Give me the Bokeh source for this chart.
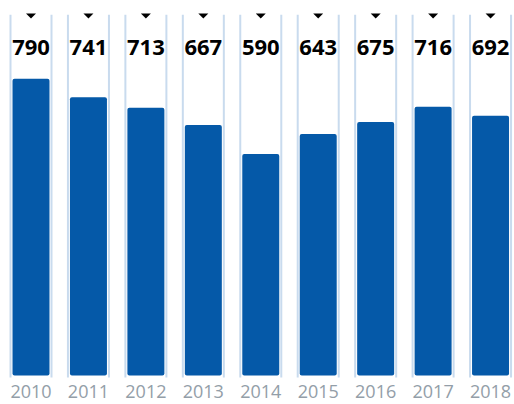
import numpy as np
from bokeh.plotting import figure
from bokeh.models import Range1d, ColumnDataSource, FixedTicker
from bokeh.core.properties import value
from bokeh.embed import file_html
from bokeh.resources import INLINE

# Data
years = ["2010", "2011", "2012", "2013", "2014", "2015", "2016", "2017", "2018"]
counts = [790, 741, 713, 667, 590, 643, 675, 716, 692]

# Layout constants (pixel-derived)
px_per_unit_y = 0.3755
frame_h = 378
baseline_px = 375
y_end = baseline_px / px_per_unit_y
y_start = -(frame_h - baseline_px) / px_per_unit_y

idx = np.arange(len(years))
track_top = 961
track_bottom = -5
tri_top = 964
tri_tip = 950.5
tri_half = 0.087
label_y = 873.5

src = ColumnDataSource(dict(
    x=idx,
    top=counts,
    label=[str(c) for c in counts],
    lx=idx - 0.357,
    rx=idx + 0.357,
))

p = figure(frame_width=514, frame_height=frame_h, output_backend="svg",
           toolbar_location=None, min_border=0, min_border_bottom=26,
           x_range=Range1d(-0.531, 8.417), y_range=Range1d(y_start, y_end))
p.outline_line_color = None
p.background_fill_color = "white"
p.border_fill_color = "white"
p.grid.visible = False
p.yaxis.visible = False

# track outlines (left & right lines)
p.segment(x0="lx", y0=track_bottom, x1="lx", y1=track_top, source=src,
          line_color="#c9dbee", line_width=2)
p.segment(x0="rx", y0=track_bottom, x1="rx", y1=track_top, source=src,
          line_color="#c9dbee", line_width=2)

# bars
p.vbar(x="x", top="top", bottom=0, width=0.644, source=src,
       fill_color="#0559a8", line_color=None, border_radius=2)

# triangles
xs = [[i - tri_half, i + tri_half, i] for i in idx]
ys = [[tri_top, tri_top, tri_tip] for _ in idx]
p.patches(xs, ys, fill_color="black", line_color=None)

# value labels
p.text(x="x", y=label_y, text="label", source=src,
       text_font=value("Open Sans"), text_font_style="bold",
       text_font_size="22px", text_color="black",
       text_align="center", text_baseline="alphabetic")

# x axis
xa = p.xaxis[0]
xa.ticker = FixedTicker(ticks=list(idx))
xa.major_label_overrides = {int(i): y for i, y in zip(idx, years)}
xa.axis_line_color = None
xa.major_tick_line_color = None
xa.minor_tick_line_color = None
xa.major_tick_out = 0
xa.major_tick_in = 0
xa.major_label_standoff = 6
xa.major_label_text_font = "Open Sans"
xa.major_label_text_font_size = "18px"
xa.major_label_text_color = "#939ea8"

open("out.html", "w").write(file_html(p, INLINE))
